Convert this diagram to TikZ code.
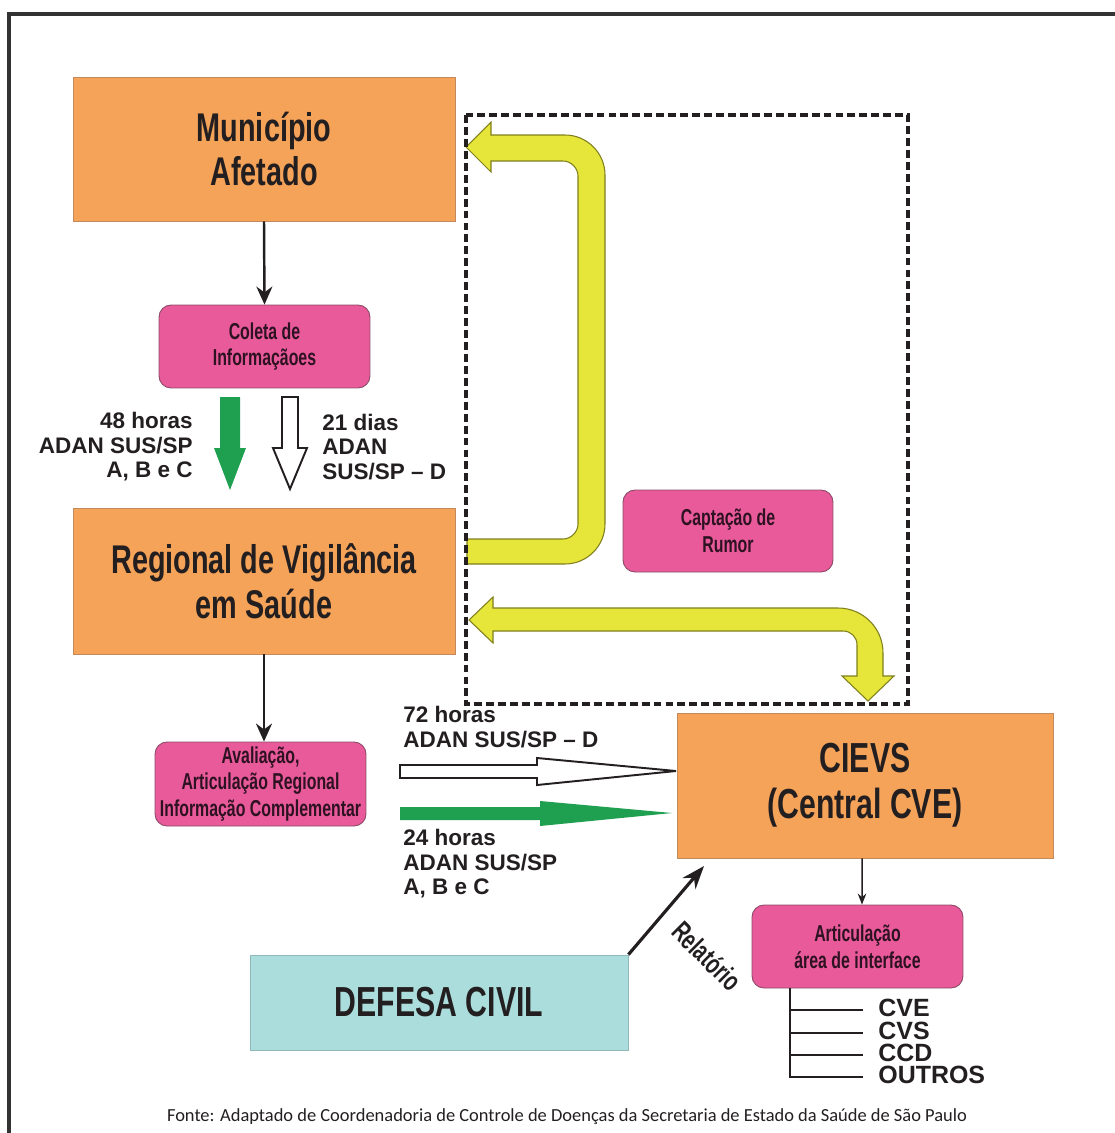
\documentclass[tikz,border=0pt]{standalone}
\usepackage{fontspec}
\setmainfont{Liberation Sans}
\newfontfamily\condb[FakeStretch=0.72]{Liberation Sans}
\newfontfamily\condp[FakeStretch=0.69]{Liberation Sans}
\newfontfamily\footfont{Carlito}
\usetikzlibrary{arrows.meta,calc}

\definecolor{orangebox}{HTML}{F6A35A}
\definecolor{orangeedge}{HTML}{C4895A}
\definecolor{pinkfill}{HTML}{E85A9A}
\definecolor{pinkedge}{HTML}{8A4A66}
\definecolor{pinkink}{HTML}{2E1222}
\definecolor{cyanfill}{HTML}{ABDDDC}
\definecolor{cyanedge}{HTML}{8FB8B8}
\definecolor{yellowfill}{HTML}{E6E53A}
\definecolor{yellowedge}{HTML}{7F7F1C}
\definecolor{greenfill}{HTML}{1EA050}
\definecolor{ink}{HTML}{231F20}
\definecolor{framegray}{HTML}{333333}

\begin{document}
\begin{tikzpicture}[x=0.02cm, y=-0.02cm,
  mainbox/.style={draw=orangeedge, line width=0.5pt, fill=orangebox, inner sep=0pt,
    align=center, text=ink, font=\condb\bfseries\fontsize{22.8}{25.6}\selectfont},
  pinkbox/.style={draw=pinkedge, line width=0.5pt, fill=pinkfill, rounded corners=0.24cm,
    inner sep=0pt, align=center, text=pinkink, font=\condp\bfseries\fontsize{13.1}{15.2}\selectfont},
  lbl/.style={inner sep=0pt, text=ink, font=\bfseries\fontsize{12.8}{13.9}\selectfont},
  treelbl/.style={inner sep=0pt, anchor=west, text=ink, text height=0.716em, text depth=0pt,
    font=\bfseries\fontsize{14.2}{15}\selectfont},
  conn/.style={draw=ink, line width=1.4pt, -{Stealth[length=0.36cm, width=0.32cm]}},
  thinconn/.style={draw=ink, line width=0.85pt, -{Stealth[length=0.22cm, width=0.17cm]}},
  relconn/.style={draw=ink, line width=1.8pt, -{Stealth[length=0.46cm, width=0.34cm]}},
  openarrow/.style={draw=ink, line width=1.1pt, fill=white, line join=miter},
  bandarrow/.style={draw=yellowedge, line width=0.6pt, fill=yellowfill},
  dashbox/.style={draw=ink, line width=2.3pt, dash pattern=on 4.5pt off 2.3pt},
  tree/.style={draw=ink, line width=0.9pt}
]
\useasboundingbox (0,0) rectangle (1115,1133);

% outer frame (top and left edges)
\draw[framegray, line width=1.9pt] (9,1140) -- (9,14) -- (1125,14);

% boxes
\node[mainbox, minimum width=7.64cm, minimum height=2.88cm] (mun) at (264,149) {Município\\Afetado};
\node[pinkbox, minimum width=4.22cm, minimum height=1.66cm] (col) at (264.5,346.5) {Coleta de\\Informaçãoes};
\node[mainbox, minimum width=7.64cm, minimum height=2.92cm] (reg) at (264,581) {Regional de Vigilância\\em Saúde};
\node[pinkbox, minimum width=4.22cm, minimum height=1.68cm] (ava) at (260.5,784) {Avaliação,\\Articulação Regional\\Informação Complementar};
\node[pinkbox, minimum width=4.2cm, minimum height=1.64cm] (cap) at (728,531) {Captação de\\Rumor};
\node[mainbox, font=\condb\bfseries\fontsize{23.9}{26.2}\selectfont,
  minimum width=7.52cm, minimum height=2.9cm] (cie) at (865,785.5) {CIEVS\\(Central CVE)};
\node[pinkbox, minimum width=4.22cm, minimum height=1.66cm] (art) at (857.5,946.5) {Articulação\\área de interface};
\node[mainbox, draw=cyanedge, fill=cyanfill, font=\condb\bfseries\fontsize{23.9}{26}\selectfont,
  minimum width=7.56cm, minimum height=1.9cm] (def) at (439,1002.5) {DEFESA CIVIL};

% plain connectors
\draw[conn] (mun.south) -- (col.north);
\draw[conn] (reg.south) -- (reg.south |- ava.north);
\draw[thinconn] (cie.south -| art.north) ++(4.5,0) -- ([xshift=0.09cm]art.north);
\coordinate (relend) at (704,866);
\draw[relconn] (def.north east) -- (relend);
\node[rotate=-45, inner sep=0pt, text=ink, font=\condp\bfseries\fontsize{16}{17}\selectfont] (rel) at (707,956) {Relatório};

% block arrows between Coleta and Regional
\fill[greenfill] (220,397) -- (240,397) -- (240,448) -- (246,448) -- (230,490) -- (214,448) -- (220,448) -- cycle;
\draw[openarrow] (282,397) -- (298,397) -- (298,448) -- (307,448) -- (290,489) -- (273,448) -- (282,448) -- cycle;
\node[lbl, anchor=east, align=right] (l48) at (193,447) {48 horas\\ADAN SUS/SP\\A, B e C};
\node[lbl, anchor=west, align=left] (l21) at (322,447) {21 dias\\ADAN\\SUS/SP -- D};

% block arrows towards CIEVS
\draw[openarrow] (400,765) -- (537,765) -- (537,758) -- (676,771) -- (537,785) -- (537,778) -- (400,778) -- cycle;
\fill[greenfill] (400,807) -- (540,807) -- (540,801) -- (672,813) -- (540,826) -- (540,820) -- (400,820) -- cycle;
\node[lbl, anchor=west, align=left] (l72) at (403,727) {72 horas\\ADAN SUS/SP -- D};
\node[lbl, anchor=west, align=left] (l24) at (403,864) {24 horas\\ADAN SUS/SP\\A, B e C};

% yellow feedback arrows
\draw[bandarrow] (467,564) -- (565,564) .. controls (587,564) and (605,546) .. (605,524)
  -- (605,175) .. controls (605,153) and (587,135) .. (565,135)
  -- (491,135) -- (491,122) -- (466,147) -- (491,172) -- (491,161)
  -- (563,161) .. controls (571,161) and (578,168) .. (578,176)
  -- (578,524) .. controls (578,532) and (571,539) .. (563,539)
  -- (467,539) -- cycle;
\draw[bandarrow] (493,608) -- (838,608) .. controls (863,608) and (883,628) .. (883,653)
  -- (883,676) -- (894,676) -- (868,701) -- (842,676) -- (857,676)
  -- (857,645) .. controls (857,637) and (851,631) .. (843,631)
  -- (493,631) -- (493,643) -- (469,620) -- (493,597) -- cycle;

% dashed region
\draw[dashbox] (466,115) rectangle (908,704);

% interface tree
\node[treelbl] (cve) at (878,1010) {CVE};
\node[treelbl] (cvs) at (878,1033) {CVS};
\node[treelbl] (ccd) at (878,1055) {CCD};
\node[treelbl] (out) at (878,1077) {OUTROS};
\coordinate (trunk) at (790,988);
\draw[tree] (trunk) -- (trunk |- out.west) -- ([xshift=-0.3cm]out.west);
\draw[tree] (trunk |- cve.west) -- ([xshift=-0.3cm]cve.west);
\draw[tree] (trunk |- cvs.west) -- ([xshift=-0.3cm]cvs.west);
\draw[tree] (trunk |- ccd.west) -- ([xshift=-0.3cm]ccd.west);

% source line
\node[inner sep=0pt, text=ink, font=\footfont\fontsize{10.5}{12}\selectfont] (src) at (567,1117)
  {Fonte: Adaptado de Coordenadoria de Controle de Doenças da Secretaria de Estado da Saúde de São Paulo};
\end{tikzpicture}
\end{document}
